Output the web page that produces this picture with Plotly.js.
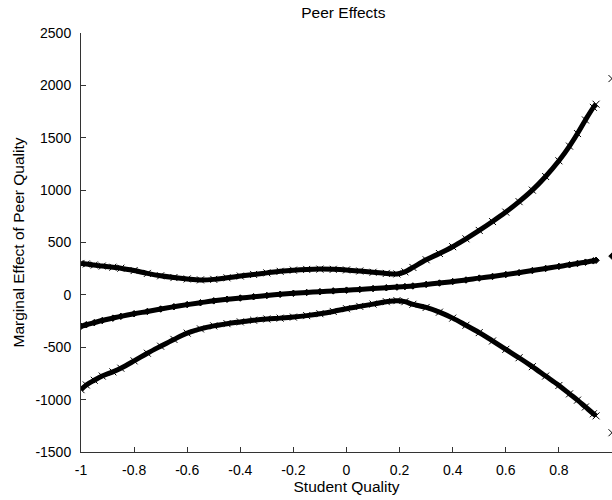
<!DOCTYPE html>
<html>
<head>
<meta charset="utf-8">
<script src="https://cdn.plot.ly/plotly-3.0.1.min.js"></script>
<style>html,body{margin:0;padding:0;background:#fff;}</style>
</head>
<body>
<div id="chart" style="width:612px;height:500px;"></div>
<script>
const studentQuality = [-1.00, -0.98, -0.95, -0.92, -0.88, -0.85, -0.80, -0.75, -0.70, -0.65, -0.60, -0.55, -0.50, -0.45, -0.40, -0.35, -0.30, -0.25, -0.20, -0.15, -0.10, -0.05, 0.00, 0.05, 0.10, 0.15, 0.19, 0.22, 0.25, 0.30, 0.35, 0.40, 0.45, 0.50, 0.55, 0.60, 0.65, 0.70, 0.75, 0.80, 0.84, 0.87, 0.90, 0.93, 0.94, 1.00];
const upperBound = [300, 295, 285, 275, 264, 255, 232, 205, 182, 165, 152, 143, 148, 163, 180, 195, 210, 225, 236, 243, 246, 244, 238, 228, 216, 205, 200, 220, 262, 335, 395, 460, 535, 615, 700, 790, 890, 1000, 1130, 1280, 1420, 1540, 1670, 1790, 1820, 2065];
const marginalEffect = [-300, -285, -265, -245, -222, -205, -180, -158, -135, -113, -93, -75, -57, -42, -30, -18, -6, 5, 15, 23, 31, 38, 45, 52, 60, 68, 74, 79, 85, 100, 113, 127, 142, 160, 176, 194, 212, 232, 252, 272, 287, 300, 312, 325, 330, 370];
const lowerBound = [-905, -860, -815, -775, -735, -700, -630, -557, -490, -425, -365, -325, -296, -275, -258, -242, -230, -222, -212, -198, -180, -158, -132, -110, -88, -65, -55, -65, -90, -120, -165, -222, -290, -360, -440, -520, -600, -685, -775, -865, -945, -1005, -1070, -1135, -1155, -1316];

const xTickVals = [-1, -0.8, -0.6, -0.4, -0.2, 0, 0.2, 0.4, 0.6, 0.8, 1];
const xTickText = ["-1", "-0.8", "-0.6", "-0.4", "-0.2", "0", "0.2", "0.4", "0.6", "0.8", "1"];
const yTickVals = [-1500, -1000, -500, 0, 500, 1000, 1500, 2000, 2500];
const yTickText = ["-1500", "-1000", "-500", "0", "500", "1000", "1500", "2000", "2500"];

const n = studentQuality.length;
function series(ys, symbol, size) {
  return [
    {
      x: studentQuality.slice(0, n - 1), y: ys.slice(0, n - 1),
      mode: 'lines+markers', type: 'scatter', showlegend: false, hoverinfo: 'skip',
      line: {color: '#000', width: 5, shape: 'spline'},
      marker: {symbol: symbol, size: size, color: '#000', line: {color: '#000', width: 1}}
    },
    {
      x: studentQuality.slice(n - 1), y: ys.slice(n - 1),
      mode: 'markers', type: 'scatter', showlegend: false, hoverinfo: 'skip',
      marker: {symbol: symbol, size: size, color: '#000', line: {color: '#000', width: 1}}
    }
  ];
}

const data = [].concat(
  series(upperBound, 'x-thin', 7),
  series(marginalEffect, 'diamond', 5),
  series(lowerBound, 'x-thin', 7)
);

const fontFam = '"Liberation Sans", Arial, Helvetica, sans-serif';
const layout = {
  width: 612, height: 500,
  margin: {l: 81, r: 0, t: 33, b: 48, pad: 0},
  paper_bgcolor: '#fff', plot_bgcolor: '#fff',
  font: {family: fontFam, size: 14, color: '#000'},
  title: {text: 'Peer Effects', font: {family: fontFam, size: 15.5, color: '#000'}, x: 0.561, xanchor: 'center', y: 0.974, yanchor: 'middle'},
  xaxis: {
    range: [-1, 1], tickmode: 'array', tickvals: xTickVals, ticktext: xTickText,
    ticks: 'inside', ticklen: 5, tickcolor: '#333', showline: true, linecolor: '#333', linewidth: 1,
    showgrid: false, zeroline: false, mirror: false, ticklabelstandoff: 5,
    tickfont: {family: fontFam, size: 14, color: '#000'},
    title: {text: 'Student Quality', font: {family: fontFam, size: 15.5, color: '#000'}, standoff: 2}
  },
  yaxis: {
    range: [-1500, 2500], tickmode: 'array', tickvals: yTickVals, ticktext: yTickText,
    ticks: 'inside', ticklen: 5, tickcolor: '#333', showline: true, linecolor: '#333', linewidth: 1,
    showgrid: false, zeroline: false, mirror: false, ticklabelstandoff: 6,
    tickfont: {family: fontFam, size: 14, color: '#000'},
    title: {text: 'Marginal Effect of Peer Quality', font: {family: fontFam, size: 15.5, color: '#000'}, standoff: 6}
  }
};

Plotly.newPlot('chart', data, layout, {displayModeBar: false, staticPlot: true});
</script>
</body>
</html>
